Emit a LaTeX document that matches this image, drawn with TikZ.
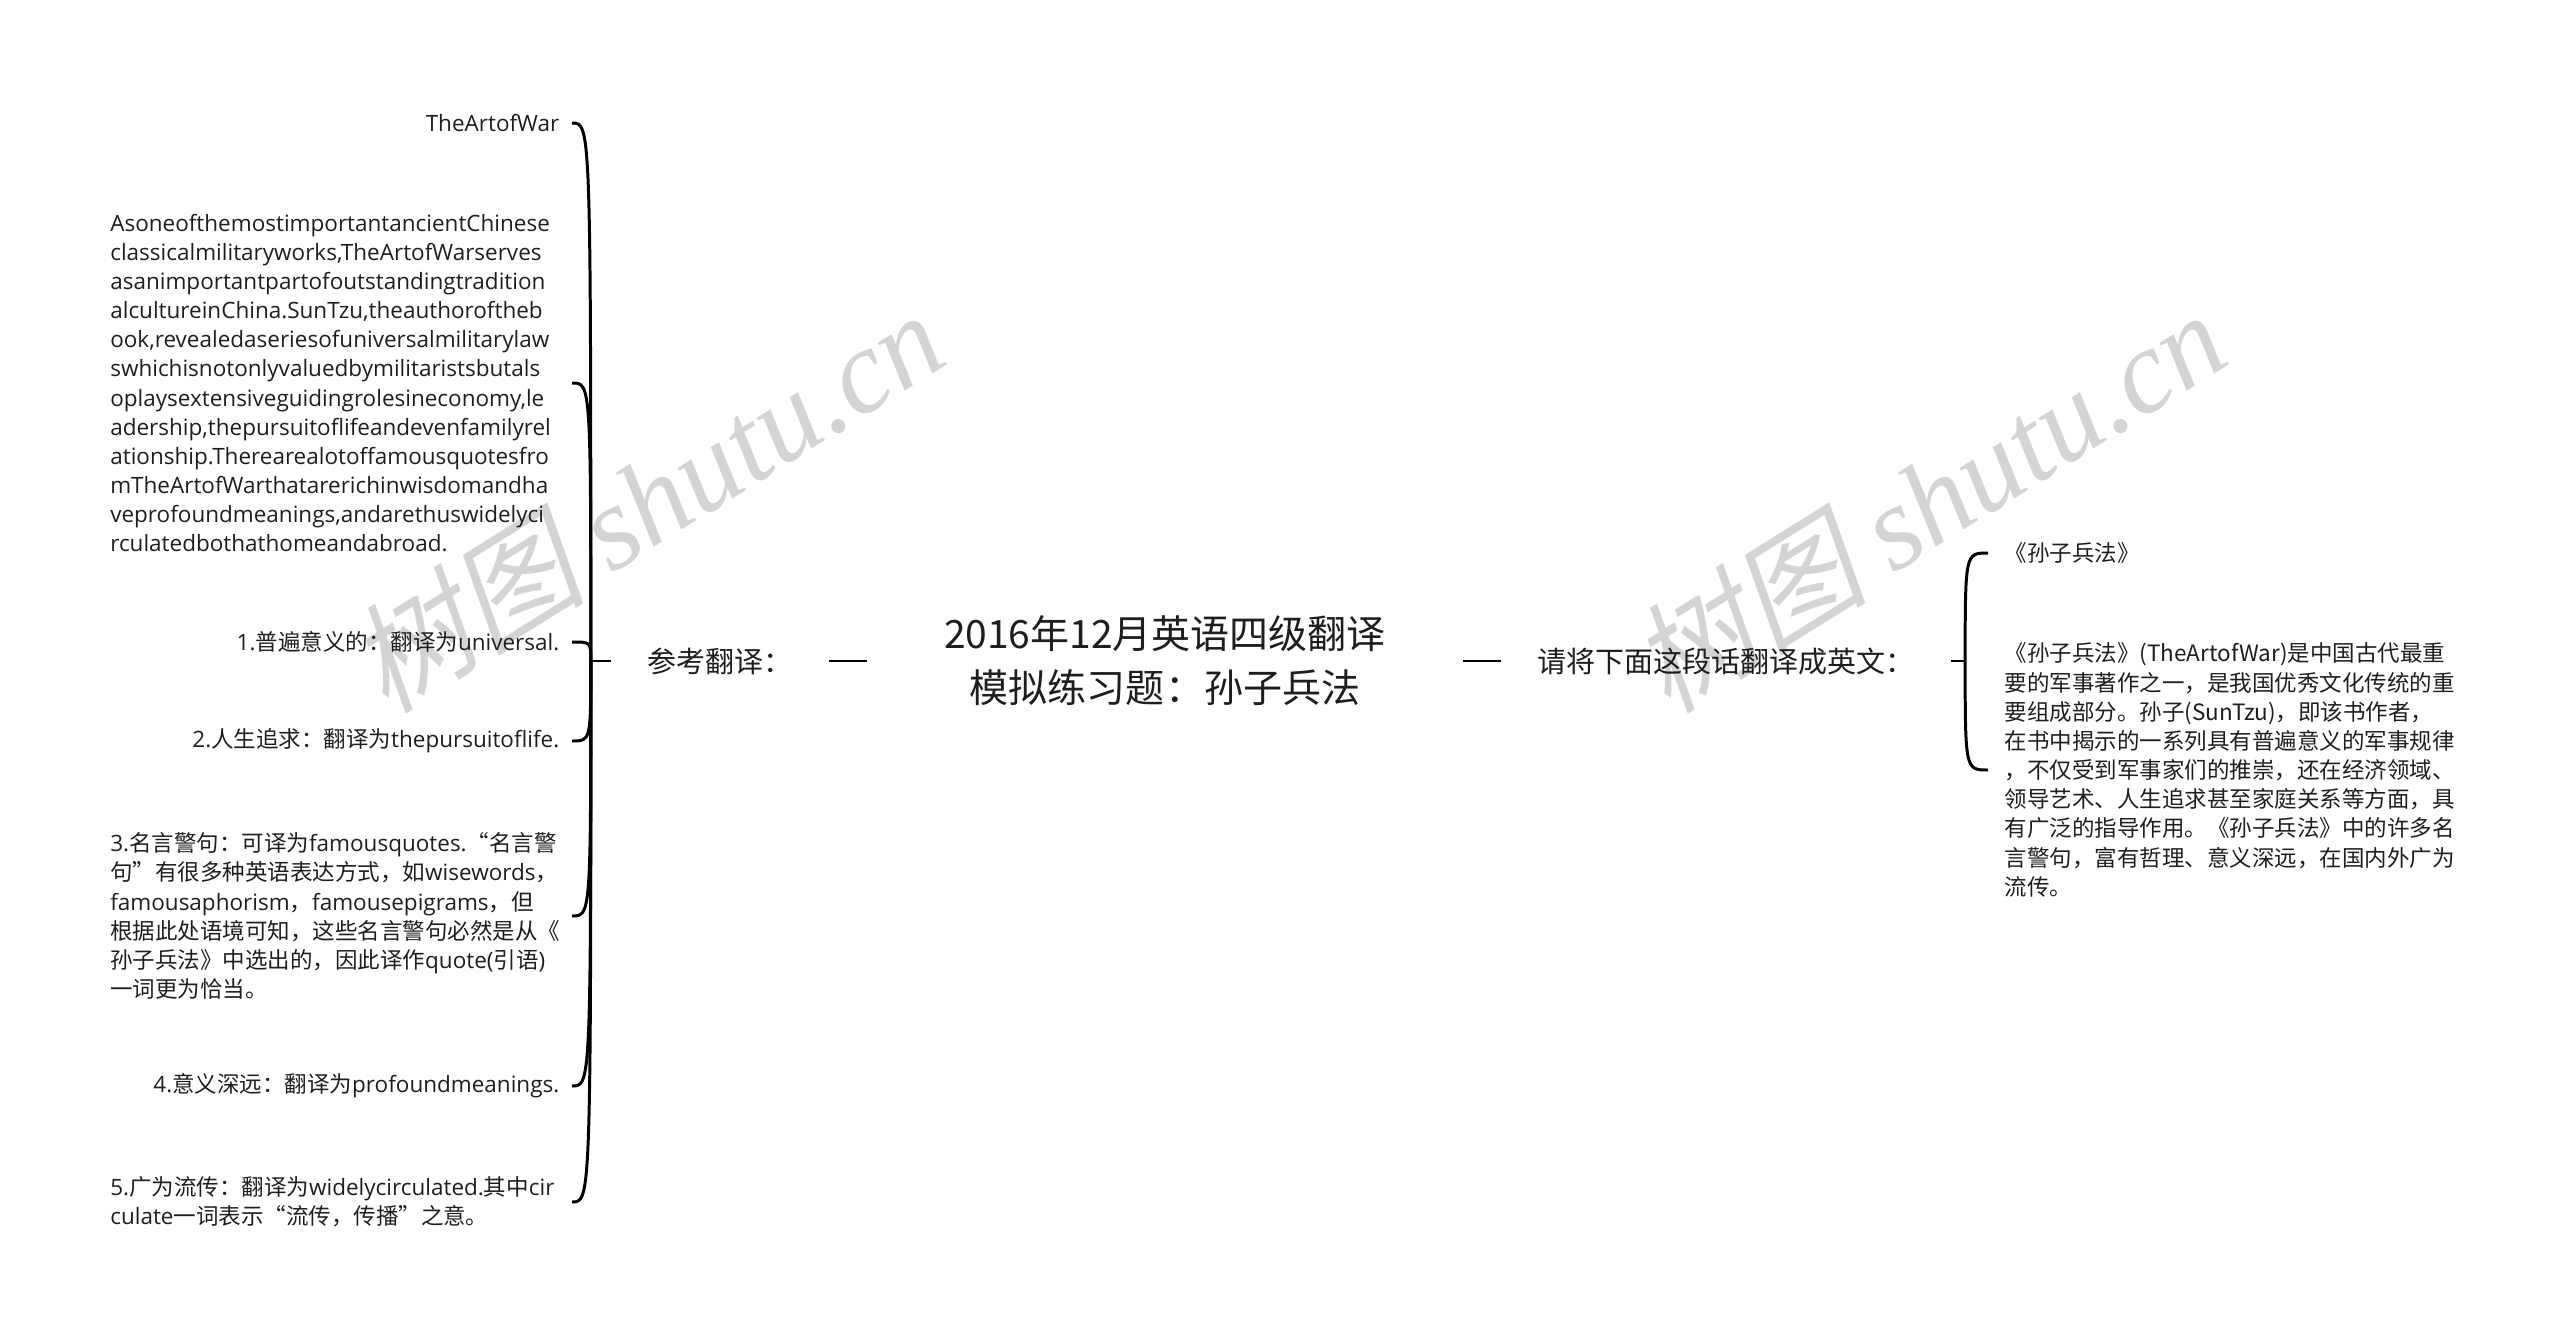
\documentclass[tikz,border=0pt]{standalone}
\usepackage{fontspec}
\setmainfont{Noto Sans CJK SC}
\newfontfamily\enfont{Open Sans}
\newfontfamily\wmcjk{Noto Sans CJK SC}[FakeSlant=0.22]
\newfontfamily\wmlat{Liberation Serif}
\newcommand\en[1]{{\enfont #1}}
\definecolor{wmgray}{HTML}{D4D4D4}
\definecolor{ink}{HTML}{1E1E1E}
\tikzset{
	topic/.style={font=\fontsize{11.1pt}{15.4pt}\selectfont, align=center, inner xsep=7.6mm, inner ysep=0pt, text=ink},
	branch/.style={font=\fontsize{8.25pt}{10pt}\selectfont, inner xsep=3.6mm, inner ysep=0pt, text=ink},
	leaf/.style={font=\fontsize{6.4pt}{8.3pt}\selectfont, inner xsep=1.2mm, inner ysep=0pt, text=ink},
	link/.style={line width=0.85pt, black},
	wmark/.style={text=wmgray, font=\fontsize{34pt}{34pt}\selectfont, rotate=32},
}
\begin{document}
\begin{tikzpicture}[x=0.1mm,y=-0.1mm]
	\useasboundingbox (0,0) rectangle (2560,1338);
	
	% watermarks
	\node[wmark] (wmi) at (645,500) {\wmcjk 树图 \wmlat\itshape shutu.cn};
	\node[wmark] (wmii) at (1927,500) {\wmcjk 树图 \wmlat\itshape shutu.cn};
	
	\node[topic] (root) at (1165,661) {2016年12月英语四级翻译\\模拟练习题：孙子兵法};
	\node[branch] (ref) at (720,661) {参考翻译：};
	\node[branch] (task) at (1726,661) {请将下面这段话翻译成英文：};
	
	\coordinate[xshift=-2mm] (lsp) at (ref.west);
	\coordinate[xshift=1.4mm] (rsp) at (task.east);
	
	% left leaves
	\node[leaf, anchor=east] (li) at (572,123) {\en{TheArtofWar}};
	\node[leaf, anchor=east, text width=44.9mm, align=left] (lii) at (572,383) {\enfont
		AsoneofthemostimportantancientChinese\\
		classicalmilitaryworks,TheArtofWarserves\\
		asanimportantpartofoutstandingtradition\\
		alcultureinChina.SunTzu,theauthoroftheb\\
		ook,revealedaseriesofuniversalmilitarylaw\\
		swhichisnotonlyvaluedbymilitaristsbutals\\
		oplaysextensiveguidingrolesineconomy,le\\
		adership,thepursuitoflifeandevenfamilyrel\\
		ationship.Therearealotoffamousquotesfro\\
		mTheArtofWarthatarerichinwisdomandha\\
		veprofoundmeanings,andarethuswidelyci\\
		rculatedbothathomeandabroad.};
	\node[leaf, anchor=east] (liii) at (572,642) {\en{1.}普遍意义的：翻译为\en{universal.}};
	\node[leaf, anchor=east] (liv) at (572,741) {\en{2.}人生追求：翻译为\en{thepursuitoflife.}};
	\node[leaf, anchor=east, text width=44.9mm, align=left] (lv) at (572,916) {%
		\en{3.}名言警句：可译为\en{famousquotes.}“名言警\\
		句”有很多种英语表达方式，如\en{wisewords}，\\
		\en{famousaphorism}，\en{famousepigrams}，但\\
		根据此处语境可知，这些名言警句必然是从《\\
		孙子兵法》中选出的，因此译作\en{quote(}引语\en{)}\\
		一词更为恰当。};
	\node[leaf, anchor=east] (lvi) at (572,1086) {\en{4.}意义深远：翻译为\en{profoundmeanings.}};
	\node[leaf, anchor=east, text width=44.9mm, align=left] (lvii) at (572,1202) {%
		\en{5.}广为流传：翻译为\en{widelycirculated.}其中\en{cir}\\
		\en{culate}一词表示“流传，传播”之意。};
	
	% right leaves
	\node[leaf, anchor=west, inner xsep=1.6mm] (ri) at (1988,553) {《孙子兵法》};
	\node[leaf, anchor=west, inner xsep=1.6mm, align=left] (rii) at (1988,770) {%
		《孙子兵法》(TheArtofWar)是中国古代最重\\
		要的军事著作之一，是我国优秀文化传统的重\\
		要组成部分。孙子(SunTzu)，即该书作者，\\
		在书中揭示的一系列具有普遍意义的军事规律\\
		，不仅受到军事家们的推崇，还在经济领域、\\
		领导艺术、人生追求甚至家庭关系等方面，具\\
		有广泛的指导作用。《孙子兵法》中的许多名\\
		言警句，富有哲理、意义深远，在国内外广为\\
		流传。};
	
	\draw[link] (ref.east) -- (root.west);
	\draw[link] (root.east) -- (task.west);
	\draw[link] (ref.west) -- (lsp);
	\draw[link] (task.east) -- (rsp);
	\foreach \n in {li,lii,liii,liv,lv,lvi,lvii}
		\draw[link] (lsp) .. controls (lsp |- \n.east) .. (\n.east);
	\foreach \n in {ri,rii}
		\draw[link] (rsp) .. controls (rsp |- \n.west) .. (\n.west);
\end{tikzpicture}
\end{document}
